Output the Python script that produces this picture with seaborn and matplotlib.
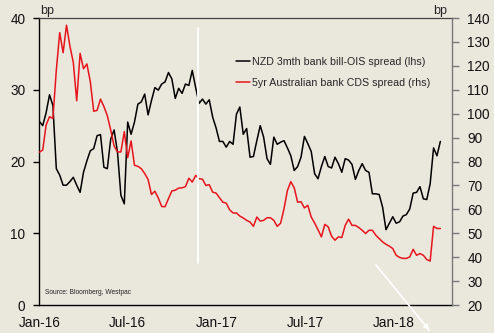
import matplotlib
matplotlib.use("Agg")
import matplotlib.pyplot as plt
import matplotlib.dates as mdates
from matplotlib.lines import Line2D
import pandas as pd
import seaborn as sns

# Weekly observations starting the first week of 2016
start_date = "2016-01-01"

# NZD 3-month bank bill less OIS spread, bp (left axis)
nzd_bill_ois = [
    25.6, 25.0, 26.8, 29.3, 27.8, 19.0, 18.1, 16.7, 16.7, 17.2,
    17.8, 16.7, 15.7, 18.5, 20.1, 21.5, 21.8, 23.6, 23.75, 19.2,
    19.0, 23.1, 24.4, 21.3, 15.3, 14.1, 25.5, 23.8, 25.5, 28.0,
    28.3, 29.4, 26.5, 28.5, 30.3, 29.95, 30.8, 31.1, 32.4, 31.5,
    28.8, 30.2, 29.5, 30.8, 30.6, 32.7, 30.3, 28.1, 28.7, 28.0,
    28.6, 26.2, 24.7, 22.8, 22.8, 22.0, 22.8, 22.4, 26.6, 27.6,
    23.8, 24.6, 20.6, 20.7, 22.9, 25.0, 23.4, 20.4, 19.6, 23.4,
    22.4, 22.7, 22.9, 21.9, 20.8, 18.75, 19.3, 20.6, 23.5, 22.5,
    21.4, 18.3, 17.6, 19.3, 20.7, 19.3, 19.1, 20.6, 19.7, 18.5,
    20.4, 20.2, 19.6, 17.5, 18.75, 19.7, 18.75, 18.5, 15.5, 15.5,
    15.4, 13.65, 10.5, 11.4, 12.3, 11.4, 11.6, 12.4, 12.6, 13.4,
    15.6, 15.7, 16.5, 14.8, 14.7, 16.9, 21.9, 20.8, 22.8,
]

# 5-year Australian bank CDS spread, bp (right axis)
aus_bank_cds = [
    83.9, 84.8, 95.3, 98.75, 98.0, 118.2, 133.9, 125.5, 137.0, 128.3,
    121.4, 105.4, 125.2, 118.8, 120.8, 113.4, 101.0, 101.4, 106.1, 103.0,
    99.2, 93.2, 86.5, 84.0, 84.0, 92.5, 81.6, 88.6, 78.4, 78.0,
    77.0, 75.0, 72.5, 66.2, 67.6, 64.8, 61.2, 61.1, 64.5, 67.7,
    68.0, 68.9, 69.0, 69.5, 73.0, 71.4, 74.2, 72.8, 72.6, 70.0,
    70.3, 67.2, 66.8, 64.9, 63.0, 62.6, 59.8, 58.5, 58.5, 57.2,
    56.4, 55.4, 54.7, 52.9, 56.8, 55.1, 55.4, 56.5, 56.5, 55.4,
    52.9, 54.2, 60.3, 67.9, 71.6, 69.0, 63.0, 63.2, 60.6, 61.7,
    56.8, 54.3, 51.5, 48.5, 53.7, 52.7, 48.75, 47.1, 48.5, 48.2,
    53.3, 55.9, 53.3, 53.3, 52.4, 51.25, 49.9, 51.25, 51.25, 49.2,
    47.8, 46.4, 45.4, 44.6, 43.6, 40.8, 39.9, 39.5, 39.5, 40.1,
    43.3, 40.8, 41.5, 40.8, 39.0, 38.4, 52.9, 52.0, 52.0,
]

series_labels = [
    "NZD 3mth bank bill-OIS spread (lhs)",
    "5yr Australian bank CDS spread (rhs)",
]
left_ticks = [0, 10, 20, 30, 40]
right_ticks = [20, 30, 40, 50, 60, 70, 80, 90, 100, 110, 120, 130, 140]

dates = pd.date_range(start_date, periods=len(nzd_bill_ois), freq="7D")
df = pd.DataFrame({"date": dates, "nzd": nzd_bill_ois, "cds": aus_bank_cds})

sns.set_theme(style="white")
plt.rcParams["font.family"] = ["Liberation Sans", "DejaVu Sans"]

BG = "#EAE7DD"
RED = "#E8141C"

fig = plt.figure(figsize=(4.94, 3.33), dpi=100, facecolor=BG)
ax = fig.add_axes([0.0796, 0.084, 0.8354, 0.8619])
ax.set_facecolor(BG)
ax2 = ax.twinx()
ax2.set_facecolor("none")

sns.lineplot(data=df, x="date", y="nzd", ax=ax, color="black", lw=1.1, legend=False)
sns.lineplot(data=df, x="date", y="cds", ax=ax2, color=RED, lw=1.1, legend=False)

ax.set_xlim(pd.Timestamp("2016-01-01"), pd.Timestamp("2018-04-30"))
ax.set_ylim(0, 40)
ax2.set_ylim(20, 140)
ax.set_yticks(left_ticks)
ax2.set_yticks(right_ticks)
ax.set_xlabel("")
ax.set_ylabel("")
ax2.set_ylabel("")

ax.xaxis.set_major_locator(mdates.MonthLocator(bymonth=[1, 7]))
ax.xaxis.set_major_formatter(mdates.DateFormatter("%b-%y"))

ax.tick_params(axis="both", direction="out", length=4, width=1, color="black",
               labelsize=9.8, labelcolor="#111111", pad=4)
ax.tick_params(axis="y", pad=6)
ax2.tick_params(axis="y", direction="out", length=5, width=1, color="#777777",
                labelsize=9.8, labelcolor="#111111", pad=6)

for side in ("left", "bottom"):
    ax.spines[side].set_color("black")
    ax.spines[side].set_linewidth(1.0)
ax.spines["top"].set_color("#444444")
ax.spines["top"].set_linewidth(0.9)
ax.spines["right"].set_visible(False)
for side in ("left", "bottom", "top"):
    ax2.spines[side].set_visible(False)
ax2.spines["right"].set_color("#777777")
ax2.spines["right"].set_linewidth(1.0)

handles = [Line2D([], [], color="black", lw=1.1), Line2D([], [], color=RED, lw=1.1)]
fig.legend(handles, series_labels, loc="center left",
           bbox_to_anchor=(236 / 494, 1 - 72.5 / 333), frameon=False,
           fontsize=7.7, handlelength=1.35, handletextpad=0.15,
           labelspacing=1.0, borderpad=0, borderaxespad=0)

fig.text(40 / 494, 1 - 11 / 333, "bp", fontsize=9, ha="left", va="center")
fig.text(447 / 494, 1 - 11 / 333, "bp", fontsize=9, ha="right", va="center")
fig.text(45 / 494, 1 - 293 / 333, "Source: Bloomberg, Westpac", fontsize=4.8,
         ha="left", va="center", color="#222222")

# White marker line and arrow drawn over the chart
fig.add_artist(Line2D([198 / 494, 198 / 494], [1 - 28 / 333, 1 - 263 / 333],
                      color="white", lw=1.3))
fig.add_artist(Line2D([376 / 494, 429 / 494], [1 - 265 / 333, 1 - 330 / 333],
                      color="white", lw=1.2))
ax.annotate("", xy=(431 / 494, 1 - 332 / 333), xytext=(425 / 494, 1 - 325 / 333),
            xycoords="figure fraction", textcoords="figure fraction",
            arrowprops=dict(arrowstyle="-|>", color="white", lw=1.0,
                            mutation_scale=8),
            annotation_clip=False)

fig.savefig("out.png", dpi=100, facecolor=BG)
